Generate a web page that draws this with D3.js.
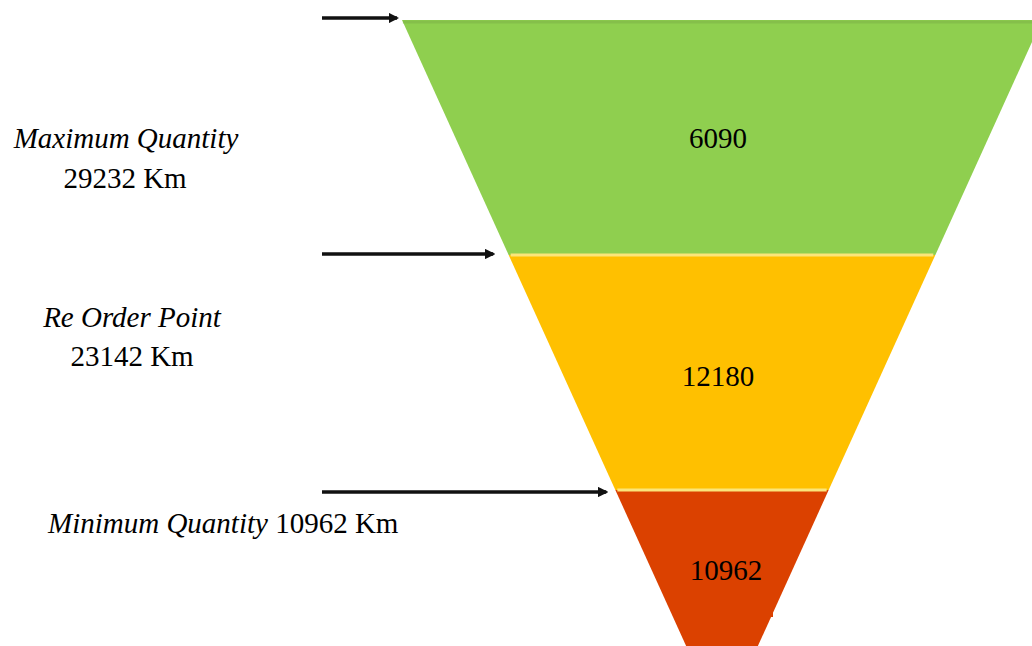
<!DOCTYPE html>
<html>
<head>
<meta charset="utf-8">
<script src="https://cdn.jsdelivr.net/npm/d3@7"></script>
<style>
  html, body { margin: 0; padding: 0; background: #fff; }
  svg { display: block; font-family: "Liberation Serif", "Times New Roman", serif; }
</style>
</head>
<body>
<svg id="chart" width="1032" height="646"></svg>
<script>
// stock levels, top of funnel to bottom
const levels = ["Maximum Quantity", "Re Order Point", "Minimum Quantity"];
const levelKm = [29232, 23142, 10962];
const bandValues = [6090, 12180, 10962];
const bandColors = ["#8fcf4f", "#ffc000", "#db4100"];

const svg = d3.select("#chart");

const topY = 20, apexY = 725, cx = 722, halfTop = 320;
const fontSize = 29;

// vertical bands, equal height
const y = d3.scaleBand().domain(levels).range([topY, apexY]);
// funnel half width shrinks linearly to the apex
const half = d3.scaleLinear().domain([topY, apexY]).range([halfTop, 0]);

const g = svg.append("g");

levels.forEach((lv, i) => {
  const y0 = y(lv), y1 = y0 + y.bandwidth();
  const pts = [
    [cx - half(y0), y0], [cx + half(y0), y0],
    [cx + half(y1), y1], [cx - half(y1), y1]
  ];
  g.append("path")
    .attr("d", d3.line()(pts) + "Z")
    .attr("fill", bandColors[i]);
});

// soft shade along the top edge
g.append("line")
  .attr("x1", cx - half(topY + 2)).attr("x2", cx + half(topY + 2))
  .attr("y1", topY + 2).attr("y2", topY + 2)
  .attr("stroke", "#7fb548").attr("stroke-width", 3).attr("opacity", 0.6);

// light separators between bands
levels.slice(1).forEach(lv => {
  const yy = y(lv);
  g.append("line")
    .attr("x1", cx - half(yy) + 2).attr("x2", cx + half(yy) - 2)
    .attr("y1", yy).attr("y2", yy)
    .attr("stroke", "#fbe57a").attr("stroke-width", 3);
});

// text box behind the bottom value
g.append("rect")
  .attr("x", 676).attr("y", 540)
  .attr("width", 97).attr("height", 77)
  .attr("fill", bandColors[2]);

// band values
const valueY = [148, 386, 580];
const valueX = [718, 718, 726];
g.selectAll(".val")
  .data(bandValues)
  .enter().append("text")
  .attr("class", "val")
  .attr("x", (d, i) => valueX[i])
  .attr("y", (d, i) => valueY[i])
  .attr("text-anchor", "middle")
  .style("font-size", fontSize + "px")
  .text(d => d);

// arrows pointing at each level
const defs = svg.append("defs");
defs.append("marker")
  .attr("id", "head")
  .attr("viewBox", "0 0 10 10")
  .attr("refX", 8).attr("refY", 5)
  .attr("markerWidth", 3).attr("markerHeight", 3)
  .attr("orient", "auto")
  .append("path")
  .attr("d", "M0,0L10,5L0,10Z")
  .attr("fill", "#111");

const arrowGap = [4, 15, 10];
const arrowShift = [-2, -1, 2];
levels.forEach((lv, i) => {
  const yy = y(lv) + arrowShift[i];
  svg.append("line")
    .attr("x1", 322)
    .attr("x2", cx - half(yy) - arrowGap[i])
    .attr("y1", yy).attr("y2", yy)
    .attr("stroke", "#111")
    .attr("stroke-width", 3.5)
    .attr("marker-end", "url(#head)");
});

// level labels on the left
const lab = svg.append("g").style("font-size", fontSize + "px");
const fmt = d => d + " Km";

lab.append("text").attr("x", 126).attr("y", 148).attr("text-anchor", "middle")
  .style("font-style", "italic").text(levels[0]);
lab.append("text").attr("x", 125).attr("y", 188).attr("text-anchor", "middle")
  .text(fmt(levelKm[0]));

lab.append("text").attr("x", 132).attr("y", 327).attr("text-anchor", "middle")
  .style("font-style", "italic").text(levels[1]);
lab.append("text").attr("x", 132).attr("y", 366).attr("text-anchor", "middle")
  .text(fmt(levelKm[1]));

const t3 = lab.append("text").attr("x", 48).attr("y", 533);
t3.append("tspan").style("font-style", "italic").text(levels[2]);
t3.append("tspan").text(" " + fmt(levelKm[2]));
</script>
</body>
</html>
